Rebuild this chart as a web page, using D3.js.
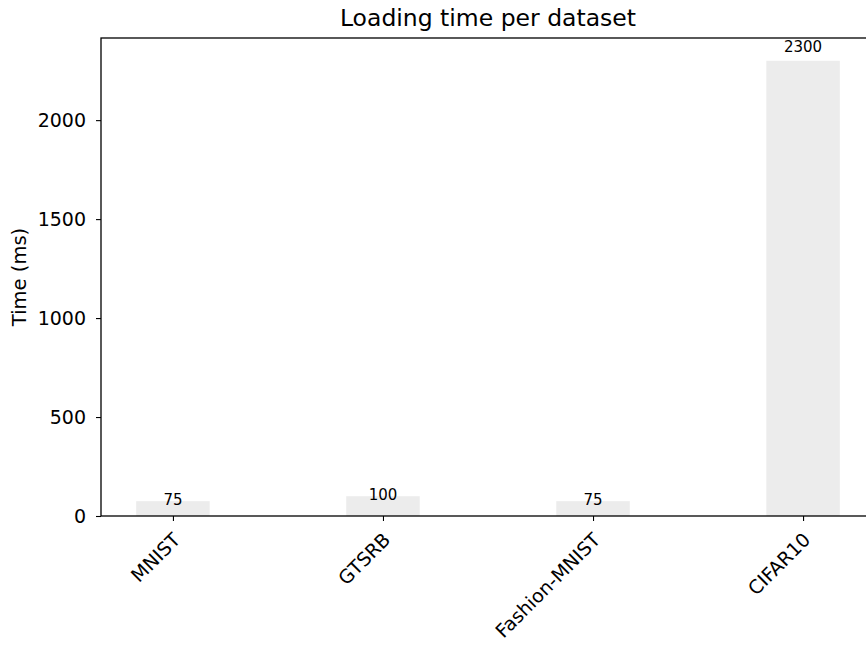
<!DOCTYPE html>
<html><head><meta charset="utf-8">
<script src="https://cdn.jsdelivr.net/npm/d3@7"></script>
<style>body{margin:0;background:#fff;} text{font-family:"DejaVu Sans",sans-serif;}</style>
</head><body>
<svg id="c" width="866" height="646"></svg>
<script>
const categories = ["MNIST", "GTSRB", "Fashion-MNIST", "CIFAR10"];
const values = [75, 100, 75, 2300];
const yTicks = [0, 500, 1000, 1500, 2000];
const title = "Loading time per dataset";
const yLabel = "Time (ms)";

(function(){
const svg = d3.select("#c");
const mL = 101, mR = 875, mT = 38, mB = 516;
const barW = 0.35;
const x = d3.scaleLinear().domain([-0.3425, 3.3425]).range([mL, mR]);
const y = d3.scaleLinear().domain([0, 2415]).range([mB, mT]);

svg.selectAll("rect.bar").data(values).join("rect")
  .attr("class","bar")
  .attr("x",(d,i)=>x(i-barW/2)).attr("width",(d,i)=>x(i+barW/2)-x(i-barW/2))
  .attr("y",d=>y(d)).attr("height",d=>y(0)-y(d))
  .attr("fill","#ececec");

svg.selectAll("text.val").data(values).join("text")
  .attr("class","val")
  .attr("x",(d,i)=>x(i)).attr("y",d=>y(d*1.03)+4.5)
  .attr("text-anchor","middle").attr("font-size",15).text(d=>d);

const yAxis = d3.axisLeft(y).tickValues(yTicks).tickFormat(d3.format("d")).tickSize(5).tickPadding(10);
const gy = svg.append("g").attr("transform",`translate(${mL},0)`).call(yAxis);
gy.select(".domain").remove();
gy.selectAll("text").attr("font-size",19).attr("font-family","DejaVu Sans").attr("fill","#000");
gy.selectAll("line").attr("stroke","#000").attr("stroke-width",1.1);

const xAxis = d3.axisBottom(x).tickValues(d3.range(categories.length)).tickFormat(i=>categories[i]).tickSize(5).tickPadding(4);
const gx = svg.append("g").attr("transform",`translate(0,${mB})`).call(xAxis);
gx.select(".domain").remove();
gx.selectAll("line").attr("stroke","#000").attr("stroke-width",1.1);
gx.selectAll("text").attr("font-size",19).attr("font-family","DejaVu Sans").attr("fill","#000")
  .attr("text-anchor","end").attr("dy",null).attr("y",0)
  .attr("transform","translate(8,25) rotate(-45)");

svg.append("rect").attr("x",mL).attr("y",mT).attr("width",mR-mL).attr("height",mB-mT)
  .attr("fill","none").attr("stroke","#000").attr("stroke-width",1.3);

svg.append("text").attr("x",(mL+mR)/2).attr("y",26).attr("text-anchor","middle")
  .attr("font-size",23.5).text(title);

svg.append("text").attr("transform",`translate(26,${(mT+mB)/2}) rotate(-90)`)
  .attr("text-anchor","middle").attr("font-size",19.5).text(yLabel);
})();
</script>
</body></html>
